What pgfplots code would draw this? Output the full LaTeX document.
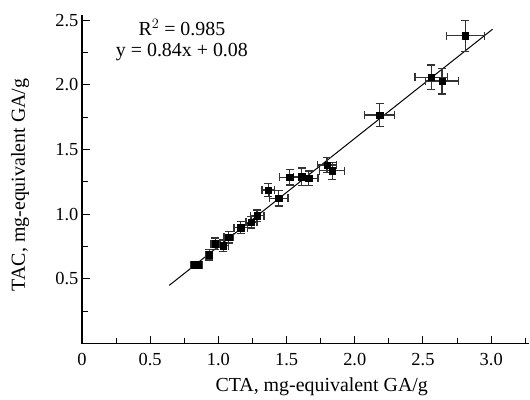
\documentclass[border=0pt]{standalone}
\usepackage{fontspec}
\setmainfont{Liberation Serif}
\usepackage{pgfplots}
\pgfplotsset{compat=1.18}
\usepackage{pgfplotstable}
\pgfplotstableread{
x y ex ey
0.828 0.610 0.030 0.020
0.852 0.610 0.030 0.020
0.933 0.687 0.025 0.040
0.979 0.772 0.033 0.045
1.035 0.756 0.040 0.045
1.077 0.823 0.035 0.045
1.165 0.897 0.050 0.047
1.243 0.939 0.040 0.045
1.284 0.988 0.050 0.045
1.365 1.188 0.045 0.050
1.443 1.124 0.067 0.060
1.524 1.286 0.075 0.060
1.610 1.291 0.060 0.067
1.663 1.279 0.067 0.055
1.797 1.381 0.070 0.060
1.834 1.335 0.090 0.065
2.183 1.767 0.110 0.087
2.562 2.058 0.120 0.096
2.640 2.029 0.120 0.100
2.811 2.379 0.140 0.120
}\pts
\begin{document}
\begin{tikzpicture}
\begin{axis}[
  scale only axis,
  width=448bp, height=329bp,
  xmin=0, xmax=3.28, ymin=0, ymax=2.54,
  axis x line=bottom, axis y line=left,
  axis line style={-, line width=1.2bp},
  tick align=inside,
  tick style={line width=1bp, black},
  major tick length=8bp, minor tick length=6bp,
  xtick={0,0.5,1,1.5,2,2.5,3},
  xticklabels={0,0.5,1.0,1.5,2.0,2.5,3.0},
  minor xtick={0.25,0.75,1.25,1.75,2.25,2.75,3.25},
  ytick={0.5,1,1.5,2,2.5},
  yticklabels={0.5,1.0,1.5,2.0,2.5},
  minor ytick={0.25,0.75,1.25,1.75,2.25},
  /pgf/number format/assume math mode=true,
  ticklabel style={font=\fontsize{18.5}{18.5}\selectfont},
  xticklabel style={yshift=-6bp},
  xlabel={CTA, mg-equivalent GA/g},
  ylabel={TAC, mg-equivalent GA/g},
  every axis x label/.style={at={([yshift=-48bp]axis description cs:0.536,0)}, anchor=base, font=\fontsize{20}{20}\selectfont},
  every axis y label/.style={at={([xshift=-57bp]axis description cs:0,0.483)}, rotate=90, anchor=base, font=\fontsize{20}{20}\selectfont},
  clip=false,
]
\addplot[black, line width=1bp, no marks] coordinates {(0.64,0.45) (3.01,2.43)};
\addplot[black, only marks, mark=square*, mark size=3.2bp,
  error bars/.cd, x dir=both, x explicit, y dir=both, y explicit,
  error bar style={line width=1.2bp, black!80},
  error mark options={rotate=90, mark size=4bp, line width=1.2bp, black!80}]
  table[x=x, y=y, x error=ex, y error=ey]{\pts};
\node[align=center, font=\fontsize{20}{21}\selectfont] at (axis cs:0.733,2.345) {R$^2$ = 0.985\\y = 0.84x + 0.08};
\end{axis}
\path ([shift={(-82bp,-56bp)}]current axis.south west) rectangle ([shift={(0bp,15bp)}]current axis.north east);
\end{tikzpicture}
\end{document}
